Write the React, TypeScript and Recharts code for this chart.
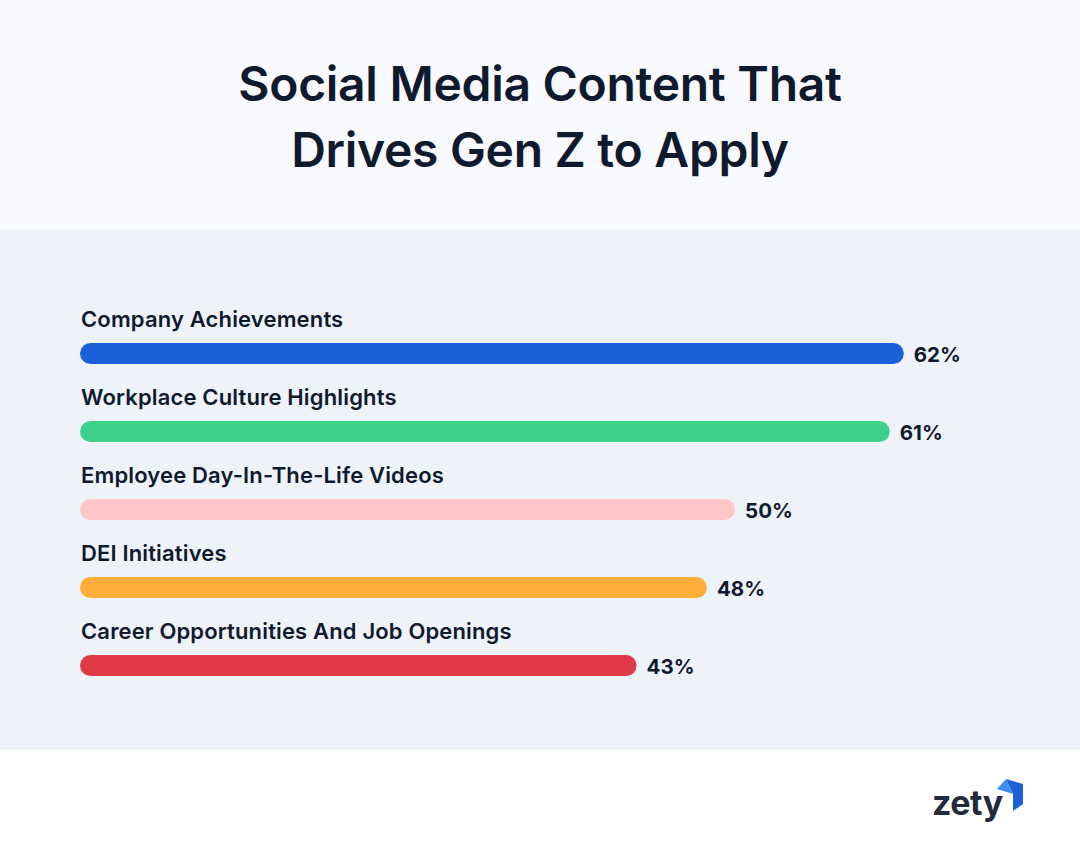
import { Bar, BarChart, Cell, LabelList, XAxis, YAxis } from 'recharts'

const categories = [
  'Company Achievements',
  'Workplace Culture Highlights',
  'Employee Day-In-The-Life Videos',
  'DEI Initiatives',
  'Career Opportunities And Job Openings',
]
const shares = [62, 61, 50, 48, 43]
const barColors = ['#1a60d8', '#3dd08a', '#ffc6c8', '#ffae3a', '#df3a45']

const data = categories.map((name, i) => ({ name, value: shares[i] }))

const TEXT = '#0f1a2e'
const FONT = "Inter, 'Noto Sans', sans-serif"

function CategoryLabel(props: any) {
  const { x, y, height, value } = props
  return (
    <text
      x={x + 1}
      y={y + height / 2 - 34}
      dy="0.35em"
      fill={TEXT}
      fontSize={22}
      fontWeight={600}
      fontFamily={FONT}
      letterSpacing={0.15}
    >
      {value}
    </text>
  )
}

function ValueLabel(props: any) {
  const { x, y, width, height, value } = props
  return (
    <text x={x + width + 10} y={y + height / 2 + 1} dy="0.35em" fill={TEXT} fontSize={20.5} fontWeight={700} fontFamily={FONT}>
      {value}%
    </text>
  )
}

function ZetyLogo() {
  return (
    <svg width={110} height={60} style={{ position: 'absolute', left: 925, top: 775 }}>
      <text x={7} y={40} fill="#232a3b" fontSize={34} fontWeight={700} fontFamily={FONT} letterSpacing={-0.5}>
        zety
      </text>
      <polygon points="81,4 98,9 98,29 88,36 88,19" fill="#1d5fd9" />
      <polygon points="72,14 81,4 88,19" fill="#3f8cf2" />
    </svg>
  )
}

export default function App() {
  return (
    <div style={{ position: 'absolute', left: 0, top: 0, width: 1080, height: 848, background: '#ffffff', fontFamily: FONT }}>
      <div style={{ position: 'absolute', left: 0, top: 0, width: 1080, height: 230, background: '#f8f9fd' }}>
        <div
          style={{
            position: 'absolute',
            top: 51,
            width: 1080,
            textAlign: 'center',
            color: TEXT,
            fontSize: 48,
            fontWeight: 600,
            lineHeight: '66px',
            letterSpacing: -0.3,
          }}
        >
          Social Media Content That
          <br />
          Drives Gen Z to Apply
        </div>
      </div>
      <div style={{ position: 'absolute', left: 0, top: 230, width: 1080, height: 520, background: '#eef2f9' }}>
        <BarChart
          width={1080}
          height={520}
          data={data}
          layout="vertical"
          margin={{ top: 84, right: 134, bottom: 46, left: 80 }}
        >
          <XAxis type="number" domain={[3.42, 65]} allowDataOverflow hide />
          <YAxis type="category" dataKey="name" hide />
          <Bar dataKey="value" barSize={21} radius={[11, 11, 11, 11]} isAnimationActive={false}>
            {data.map((d, i) => (
              <Cell key={d.name} fill={barColors[i]} />
            ))}
            <LabelList dataKey="name" content={<CategoryLabel />} />
            <LabelList dataKey="value" content={<ValueLabel />} />
          </Bar>
        </BarChart>
      </div>
      <ZetyLogo />
    </div>
  )
}
